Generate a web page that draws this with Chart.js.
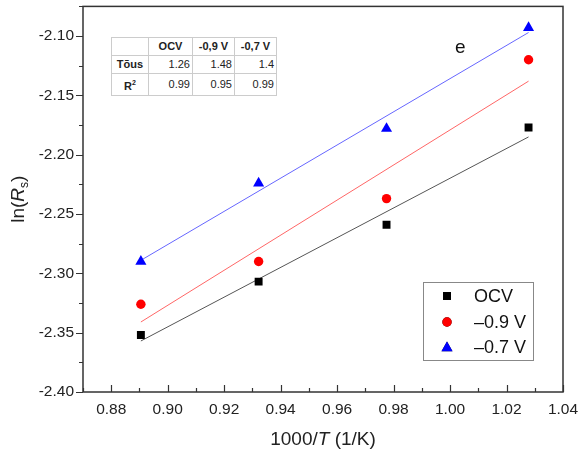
<!DOCTYPE html>
<html>
<head>
<meta charset="utf-8">
<script src="https://cdn.jsdelivr.net/npm/chart.js@4/dist/chart.umd.min.js"></script>
<style>
  body { margin: 0; background: #fff; }
  #wrap { position: relative; width: 581px; height: 454px; }
  #fitTable {
    position: absolute; left: 111px; top: 37px;
    border-collapse: collapse; border: 1px solid #777;
    font: 11px Arial, 'Liberation Sans', sans-serif; color: #222;
    background: #fff;
  }
  #fitTable td, #fitTable th {
    border: 1px solid #ccc; padding: 0 2px; height: 17px; line-height: 17px;
  }
  #fitTable th { font-weight: bold; text-align: center; }
  #fitTable td { text-align: right; }
</style>
</head>
<body>
<div id="wrap">
  <canvas id="chart" width="581" height="454"></canvas>
  <table id="fitTable"></table>
</div>
<script>
const FONT = "Arial, 'Liberation Sans', sans-serif";

// 1000/T values (1/K)
const invT = [0.8905, 0.9322, 0.9775, 1.0278];
// ln(Rs) at each temperature
const lnOCV = [-2.352, -2.307, -2.259, -2.177];
const lnM09 = [-2.326, -2.290, -2.237, -2.120];
const lnM07 = [-2.290, -2.224, -2.178, -2.093];
// linear fit end points (first and last temperature)
const fitX = [0.8905, 1.0278];
const fitOCV = [-2.357, -2.185];
const fitM09 = [-2.341, -2.138];
const fitM07 = [-2.289, -2.097];

const xTicks = [0.88, 0.90, 0.92, 0.94, 0.96, 0.98, 1.00, 1.02, 1.04];
const yTicks = [-2.40, -2.35, -2.30, -2.25, -2.20, -2.15, -2.10];

const seriesNames = ['OCV', '\u20130.9 V', '\u20130.7 V'];
const tableCols = ['OCV', '-0,9 V', '-0,7 V'];
const slopes = ['1.26', '1.48', '1.4'];
const r2 = ['0.99', '0.95', '0.99'];

// fit table
const tbl = document.getElementById('fitTable');
tbl.innerHTML =
  '<tr><th style="width:32px"></th>' + tableCols.map((c, i) =>
    `<th style="width:${[39, 37, 37][i]}px">${c}</th>`).join('') + '</tr>' +
  '<tr><th>Tõus</th>' + slopes.map(v => `<td>${v}</td>`).join('') + '</tr>' +
  '<tr><th>R<sup style="font-size:7px;vertical-align:5px">2</sup></th>' +
  r2.map(v => `<td>${v}</td>`).join('') + '</tr>';

const pts = (ys) => invT.map((x, i) => ({ x, y: ys[i] }));
const line = (ys) => fitX.map((x, i) => ({ x, y: ys[i] }));

const markers = [
  { color: '#000', style: 'rect', radius: 5.6 },
  { color: '#ff0000', style: 'circle', radius: 4.7 },
  { color: '#0000ff', style: 'triangle', radius: 6.4 },
];

const pointSet = (label, ys, m) => ({
  label, data: pts(ys), showLine: false, order: 1,
  pointStyle: m.style, pointRadius: m.radius, pointHoverRadius: m.radius,
  pointBackgroundColor: m.color, pointBorderWidth: 0, borderColor: m.color,
});
const fitSet = (ys, color) => ({
  label: 'fit', data: line(ys), showLine: true, order: 2,
  borderColor: color, borderWidth: 1, pointRadius: 0,
});

// frame, ticks, axis titles, legend and panel letter
const decorations = {
  id: 'decorations',
  afterDraw(chart) {
    const { ctx, chartArea: a, scales: { x, y } } = chart;
    ctx.save();
    ctx.strokeStyle = '#333';
    ctx.lineWidth = 1.5;
    ctx.strokeRect(a.left, a.top, a.right - a.left, a.bottom - a.top);

    ctx.lineWidth = 1.2;
    ctx.beginPath();
    // y ticks point outward
    for (let v = -2.40; v <= -2.0749; v += 0.025) {
      const py = Math.round(y.getPixelForValue(v)) + 0.5;
      const major = Math.abs(Math.round(v / 0.05) * 0.05 - v) < 1e-6;
      ctx.moveTo(a.left, py);
      ctx.lineTo(a.left - (major ? 7 : 4), py);
    }
    // x ticks point inward
    for (let v = 0.87; v <= 1.0401; v += 0.01) {
      const px = Math.round(x.getPixelForValue(v)) + 0.5;
      const major = Math.abs(Math.round(v / 0.02) * 0.02 - v) < 1e-6;
      ctx.moveTo(px, a.bottom);
      ctx.lineTo(px, a.bottom - (major ? 7 : 4));
    }
    ctx.stroke();

    ctx.fillStyle = '#222';
    ctx.textBaseline = 'alphabetic';
    // x title: 1000/T (1/K)
    const parts = [['1000/', ''], ['T', 'italic '], [' (1/K)', '']];
    let w = 0;
    parts.forEach(([t, s]) => { ctx.font = `${s}19px ${FONT}`; w += ctx.measureText(t).width; });
    let cx = (a.left + a.right) / 2 - w / 2;
    parts.forEach(([t, s]) => {
      ctx.font = `${s}19px ${FONT}`;
      ctx.fillText(t, cx, 445);
      cx += ctx.measureText(t).width;
    });

    // y title: ln(Rs)
    ctx.save();
    ctx.translate(24, (a.top + a.bottom) / 2);
    ctx.rotate(-Math.PI / 2);
    const yp = [['ln(', '', 19, 0], ['R', 'italic ', 19, 0], ['s', '', 12, 4], [')', '', 19, 0]];
    w = 0;
    yp.forEach(([t, s, f]) => { ctx.font = `${s}${f}px ${FONT}`; w += ctx.measureText(t).width; });
    cx = -w / 2;
    yp.forEach(([t, s, f, dy]) => {
      ctx.font = `${s}${f}px ${FONT}`;
      ctx.fillText(t, cx, dy);
      cx += ctx.measureText(t).width;
    });
    ctx.restore();

    // legend
    ctx.strokeStyle = '#888';
    ctx.lineWidth = 1;
    ctx.strokeRect(423.5, 282.5, 110, 78);
    ctx.font = `18px ${FONT}`;
    ctx.textBaseline = 'middle';
    [296, 322, 347].forEach((ly, i) => {
      const m = markers[i];
      Chart.helpers.drawPoint(ctx, {
        pointStyle: m.style, radius: m.radius, borderWidth: 0, rotation: 0,
      }, 447, m.style === 'triangle' ? ly + 1 : ly);
      ctx.fillStyle = m.color;
      ctx.fill();
      ctx.fillStyle = '#111';
      ctx.fillText(seriesNames[i], 474, ly + 1);
    });

    ctx.font = `19px ${FONT}`;
    ctx.fillStyle = '#111';
    ctx.fillText('e', 455, 48);
    ctx.restore();
  }
};

new Chart(document.getElementById('chart'), {
  type: 'scatter',
  data: {
    datasets: [
      pointSet(seriesNames[0], lnOCV, markers[0]),
      pointSet(seriesNames[1], lnM09, markers[1]),
      pointSet(seriesNames[2], lnM07, markers[2]),
      fitSet(fitOCV, '#555'),
      fitSet(fitM09, '#ff6666'),
      fitSet(fitM07, '#6666ff'),
    ],
  },
  options: {
    responsive: false,
    animation: false,
    layout: { padding: { top: 5, right: 18, left: 0, bottom: 0 } },
    plugins: { legend: { display: false }, tooltip: { enabled: false } },
    scales: {
      x: {
        type: 'linear', min: 0.87, max: 1.04,
        afterBuildTicks: s => { s.ticks = xTicks.map(value => ({ value })); },
        afterFit: s => { s.height = 62; s.paddingLeft = 0; s.paddingRight = 0; },
        grid: { display: false, drawTicks: false },
        border: { display: false },
        ticks: {
          padding: 8, color: '#222', maxRotation: 0, autoSkip: false,
          font: { family: FONT, size: 15.5 },
          callback: v => v.toFixed(2),
        },
      },
      y: {
        type: 'linear', min: -2.40, max: -2.075,
        afterBuildTicks: s => { s.ticks = yTicks.map(value => ({ value })); },
        afterFit: s => { s.width = 83; s.paddingTop = 0; s.paddingBottom = 0; },
        grid: { display: false, drawTicks: false },
        border: { display: false },
        ticks: {
          padding: 9, color: '#222',
          font: { family: FONT, size: 15.5 },
          callback: v => v.toFixed(2),
        },
      },
    },
  },
  plugins: [decorations],
});
</script>
</body>
</html>
